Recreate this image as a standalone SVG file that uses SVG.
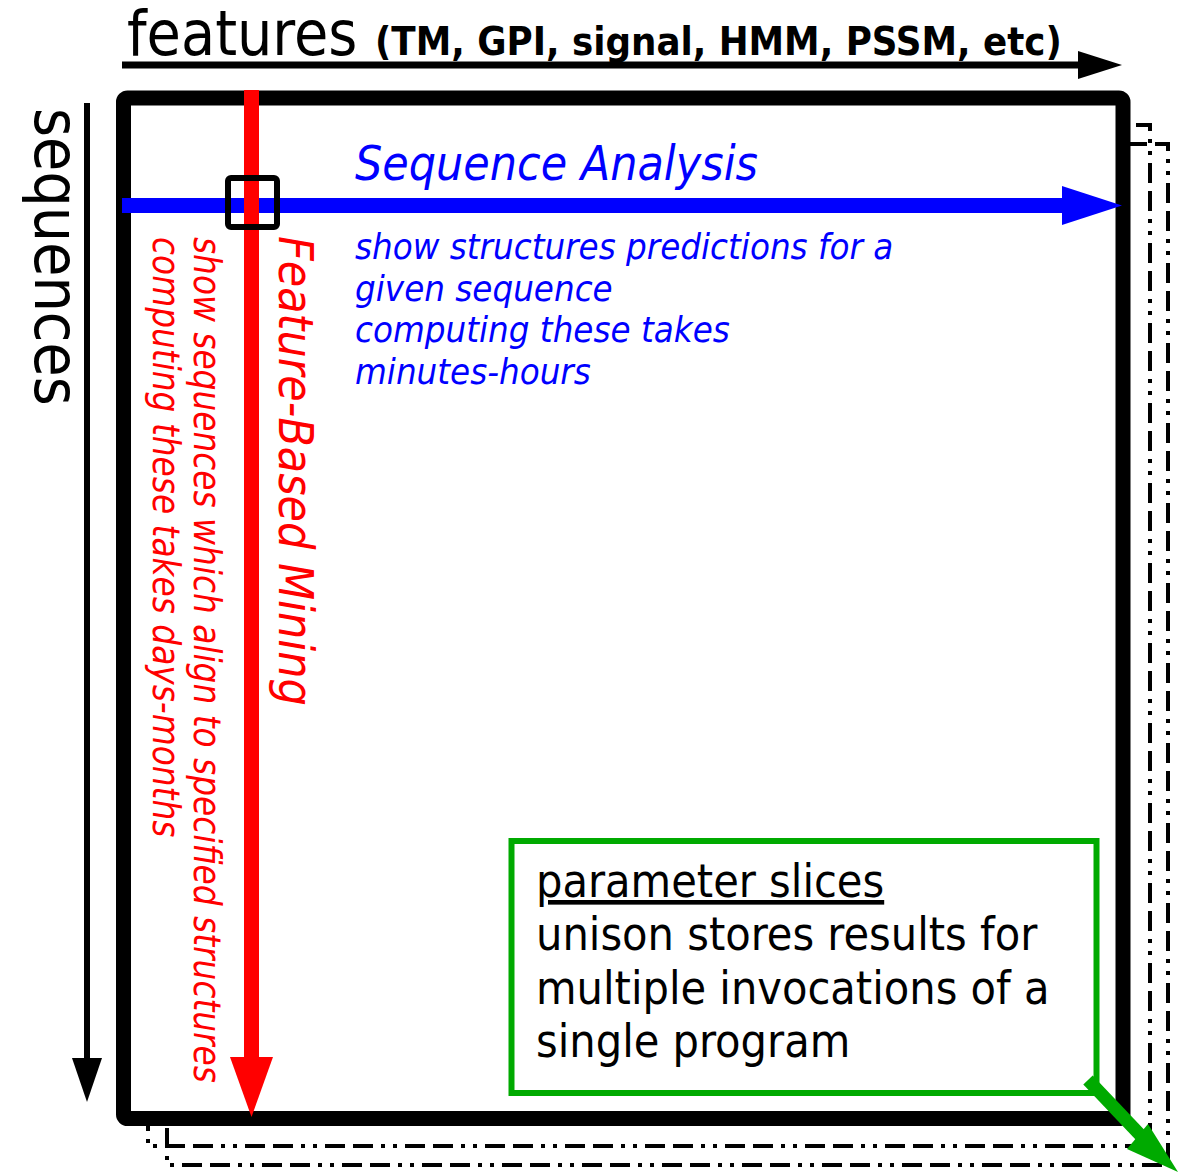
<svg xmlns="http://www.w3.org/2000/svg" width="1186" height="1172" viewBox="0 0 1186 1172">
<style>
text{font-family:"DejaVu Sans Condensed","DejaVu Sans","Liberation Sans",sans-serif;font-stretch:condensed}
.frame{fill:none;stroke:#000;stroke-width:4;stroke-dasharray:20 8 20 8 4 8 4 8}
.blue{fill:#0000ff}
.red{fill:#ff0000}
.it{font-style:italic}
</style>
<g id="back-frame-2"><rect class="frame" x="167" y="144" width="1001" height="1021"/></g>
<g id="back-frame-1"><rect class="frame" x="148" y="125" width="1002" height="1021"/></g>
<g id="main-frame"><rect x="123.5" y="98" width="999.5" height="1020.5" rx="4" fill="#fff" stroke="#000" stroke-width="15"/></g>
<g id="connectors">
<line x1="122" y1="65" x2="1082" y2="65" stroke="#000" stroke-width="7"/>
<polygon points="1078,51 1122,65 1078,79" fill="#000"/>
<line x1="87" y1="103" x2="87" y2="1062" stroke="#000" stroke-width="6"/>
<polygon points="72,1058 87,1102 102,1058" fill="#000"/>
<line x1="122" y1="205.5" x2="1066" y2="205.5" stroke="#0000ff" stroke-width="15"/>
<polygon points="1062,186 1122,205.5 1062,225" fill="#0000ff"/>
<line x1="251.5" y1="90" x2="251.5" y2="1060" stroke="#ff0000" stroke-width="15"/>
<polygon points="230,1057 251.5,1117 273,1057" fill="#ff0000"/>
<line x1="1088" y1="1080" x2="1145" y2="1140" stroke="#00aa00" stroke-width="13"/>
<polygon points="1148,1124 1178,1172 1127,1149" fill="#00aa00"/>
</g>
<g id="intersection"><rect x="228" y="178" width="49" height="49" rx="3" fill="none" stroke="#000" stroke-width="6"/></g>
<g id="features-label"><text x="127" y="55" font-size="62">features <tspan font-size="39.7" font-weight="bold">(TM, GPI, signal, HMM, PSSM, etc)</tspan></text></g>
<g id="sequences-label"><text transform="translate(35,108) rotate(90)" font-size="62">sequences</text></g>
<g id="sequence-analysis">
<text class="blue it" x="355" y="180" font-size="47.8">Sequence Analysis</text>
<text class="blue it" font-size="36.3"><tspan x="355" y="259">show structures predictions for a</tspan><tspan x="355" y="300.5">given sequence</tspan><tspan x="355" y="342">computing these takes</tspan><tspan x="355" y="383.5">minutes-hours</tspan></text>
</g>
<g id="feature-based-mining">
<text class="red it" transform="translate(279,236) rotate(90)" font-size="47.8">Feature-Based Mining</text>
<text class="red it" transform="translate(194,237) rotate(90)" font-size="36.5">show sequences which align to specified structures</text>
<text class="red it" transform="translate(153,237) rotate(90)" font-size="36.5">computing these takes days-months</text>
</g>
<g id="parameter-slices">
<rect x="511.5" y="841" width="585" height="252" fill="none" stroke="#00aa00" stroke-width="6"/>
<text font-size="46.3" fill="#000"><tspan x="536" y="897" text-decoration="underline">parameter slices</tspan><tspan x="536" y="950">unison stores results for</tspan><tspan x="536" y="1004">multiple invocations of a</tspan><tspan x="536" y="1057">single program</tspan></text>
</g>
</svg>
